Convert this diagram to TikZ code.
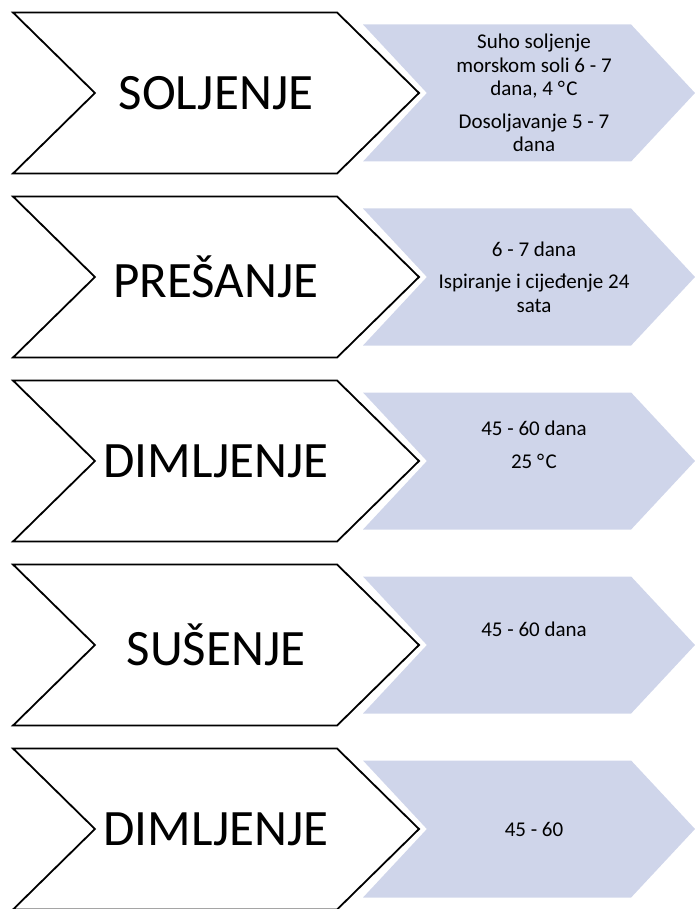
\documentclass[tikz,border=0pt]{standalone}
\usepackage{fontspec}
\setmainfont{Carlito}
\usetikzlibrary{shapes.symbols}
\definecolor{chevronblue}{RGB}{207,213,234}
\newcommand{\degC}{°\kern1.5pt C}
\tikzset{
  stage/.style={
      signal, draw, line width=1.8pt, fill=white,
      signal from=west, signal to=east, signal pointer angle=89,
      minimum width=406pt, minimum height=161pt, inner sep=0pt,
      font=\fontsize{51}{60}\selectfont,
  },
  detail/.style={
      signal, fill=chevronblue, draw=none,
      signal from=west, signal to=east, signal pointer angle=94,
      minimum width=332pt, minimum height=137pt, inner sep=0pt,
  },
  note/.style={
      align=center, inner sep=0pt,
      font=\fontsize{21}{23.5}\selectfont,
  }
}

\begin{document}
\begin{tikzpicture}[x=1pt,y=-1pt]
\useasboundingbox (0,0) rectangle (694,909);
% stages
\node [stage] (soljenje) at (216,93) {SOLJENJE};
\node [stage] (presanje) at (216,277) {PREŠANJE};
\node [stage] (dimljenje) at (216,461) {DIMLJENJE};
\node [stage] (susenje) at (216,645) {SUŠENJE};
\node [stage] (dimljenje2) at (216,829) {DIMLJENJE};

% details
\node [detail] (solinfo) at ([xshift=313pt]soljenje.center) {};
\node [detail] (presinfo) at ([xshift=313pt]presanje.center) {};
\node [detail] (diminfo) at ([xshift=313pt]dimljenje.center) {};
\node [detail] (susinfo) at ([xshift=313pt]susenje.center) {};
\node [detail] (diminfo2) at ([xshift=313pt]dimljenje2.center) {};

\node [note] (soltext) at ([xshift=5pt]solinfo.center)
  {Suho soljenje\\morskom soli 6 - 7\\dana, 4 \degC\\[9pt]Dosoljavanje 5 - 7\\dana};
\node [note] (prestext) at ([xshift=5pt]presinfo.center)
  {6 - 7 dana\\[9pt]Ispiranje i cijeđenje 24\\sata};
\node [note] (dimtext) at ([xshift=5pt,yshift=16pt]diminfo.center)
  {45 - 60 dana\\[9pt]25 \degC};
\node [note] (sustext) at ([xshift=5pt,yshift=16pt]susinfo.center) {45 - 60 dana};
\node [note] (dimtext2) at ([xshift=5pt]diminfo2.center) {45 - 60};
\end{tikzpicture}
\end{document}
